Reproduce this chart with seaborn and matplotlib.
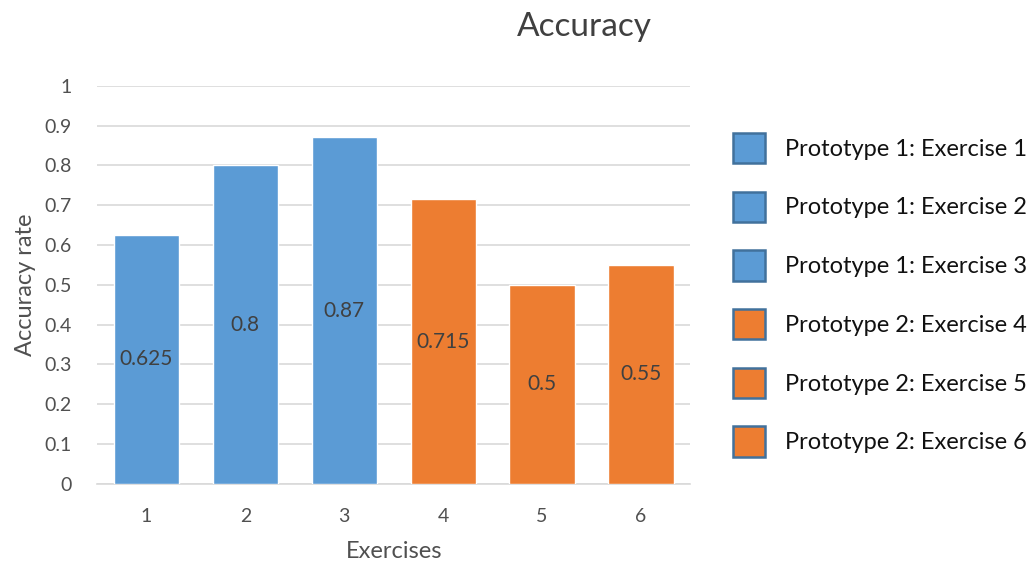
import matplotlib
matplotlib.use("Agg")
import matplotlib.pyplot as plt
import seaborn as sns
import pandas as pd

exercises = ["1", "2", "3", "4", "5", "6"]
accuracy = [0.625, 0.8, 0.87, 0.715, 0.5, 0.55]
series_labels = [
    "Prototype 1: Exercise 1",
    "Prototype 1: Exercise 2",
    "Prototype 1: Exercise 3",
    "Prototype 2: Exercise 4",
    "Prototype 2: Exercise 5",
    "Prototype 2: Exercise 6",
]
bar_colors = ["#5B9BD5", "#5B9BD5", "#5B9BD5", "#ED7D31", "#ED7D31", "#ED7D31"]
y_ticks = [0, 0.1, 0.2, 0.3, 0.4, 0.5, 0.6, 0.7, 0.8, 0.9, 1]
y_tick_labels = ["0", "0.1", "0.2", "0.3", "0.4", "0.5", "0.6", "0.7", "0.8", "0.9", "1"]

sns.set_style("white")
plt.rcParams["font.family"] = ["Lato", "DejaVu Sans"]

df = pd.DataFrame({"Exercise": exercises, "Accuracy": accuracy, "Series": series_labels})

fig = plt.figure(figsize=(10.32, 5.64), dpi=100)
ax = fig.add_axes([0.094, 0.142, 0.575, 0.706])

sns.barplot(
    data=df, x="Exercise", y="Accuracy", hue="Series",
    palette=dict(zip(series_labels, bar_colors)),
    dodge=False, width=0.66, saturation=1, ax=ax, zorder=3,
)

# value labels in the middle of each bar
for i, v in enumerate(accuracy):
    ax.text(i, v / 2, f"{v:g}", ha="center", va="center",
            fontsize=15, color="#404040", zorder=4)

ax.set_xlim(-0.5, 5.5)
ax.set_ylim(0, 1)
ax.set_yticks(y_ticks)
ax.set_yticklabels(y_tick_labels)
ax.yaxis.grid(True, color="#D9D9D9", linewidth=1.2, zorder=0)
ax.set_axisbelow(True)
for side in ["left", "right", "top"]:
    ax.spines[side].set_visible(False)
ax.spines["bottom"].set_color("#D9D9D9")
ax.spines["bottom"].set_linewidth(1.2)
ax.tick_params(axis="both", length=0, labelsize=14, colors="#505050")
ax.tick_params(axis="x", pad=17)
ax.tick_params(axis="y", pad=18)

ax.set_xlabel("Exercises", fontsize=17, color="#505050", labelpad=12)
ax.set_ylabel("Accuracy rate", fontsize=17, color="#505050", labelpad=6)
fig.text(0.566, 0.952, "Accuracy", ha="center", va="center",
         fontsize=24, color="#404040")

handles, labels = ax.get_legend_handles_labels()
for h in handles:
    h.set_edgecolor("#41719C")
    h.set_linewidth(1.8)
ax.legend(
    handles, labels, loc="center left", bbox_to_anchor=(1.071, 0.475),
    frameon=False, fontsize=17, handlelength=1.36, handleheight=1.6,
    labelspacing=1.2, handletextpad=0.85, borderpad=0, borderaxespad=0,
    labelcolor="#111111",
)

fig.savefig("out.png", dpi=100)
